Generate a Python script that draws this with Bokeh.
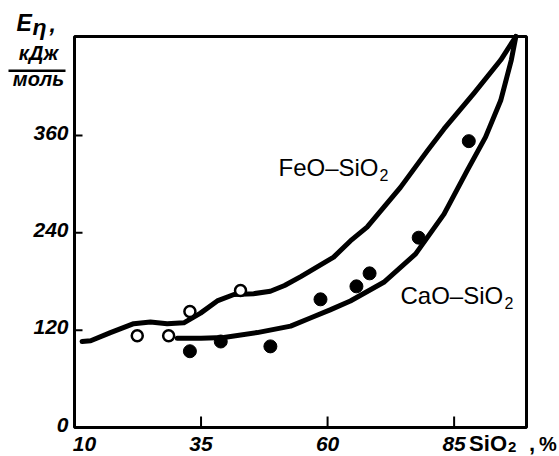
from bokeh.plotting import figure
from bokeh.models import Range1d
from bokeh.core.properties import value
from bokeh.embed import file_html
from bokeh.resources import INLINE

# ---- data ----
feo_curve_x = [11.5, 13.2, 17.1, 21.7, 25.0, 28.3, 31.6, 34.9, 38.2, 41.5, 45.4, 48.7,
               51.5, 54.7, 61.2, 64.5, 67.8, 74.4, 79.7, 83.0, 88.9, 94.2, 97.2]
feo_curve_y = [106, 107, 117, 128, 130, 128, 129, 141, 156, 164, 165, 168,
               175, 186, 210, 230, 247, 296, 341, 368, 412, 453, 482]

cao_curve_x = [30.3, 35.0, 39.5, 46.1, 52.7, 56.6, 60.5, 64.5, 71.1, 77.4, 83.0,
               87.6, 91.2, 94.2, 96.3, 97.2]
cao_curve_y = [110, 110, 111, 117, 125, 135, 145, 156, 179, 214, 263,
               317, 358, 403, 453, 482]

feo_pts_x = [22.4, 28.6, 32.8, 42.8]
feo_pts_y = [113, 113, 143, 169]

cao_pts_x = [32.8, 38.9, 48.7, 58.6, 65.7, 68.3, 78.0, 87.9]
cao_pts_y = [94, 106, 100, 158, 174, 190, 234, 353]

x_ticks = [35, 60, 85]
x_tick_labels = ["35", "60", "85"]
y_ticks = [0, 120, 240, 360]
y_tick_labels = ["0", "120", "240", "360"]
x_first_label = "10"
X0, X1 = 10, 99.3      # axis box limits
Y0, Y1 = 0, 482

# ---- layout (pixels) ----
W, H = 559, 456
FL, FR, FT, FB = 74, 526, 36, 427       # box edges on the canvas
sx = (FR - FL) / (X1 - X0)
sy = (FB - FT) / (Y1 - Y0)
FONT = value("Liberation Sans")
INK = "black"
BASE_FIX = 0.42   # the svg text lands this many em below the requested baseline

XR = (X0 - FL / sx, X1 + (W - FR) / sx)
YR = (Y0 - (H - FB) / sy, Y1 + FT / sy)

p = figure(frame_width=W, frame_height=H, output_backend="svg", toolbar_location=None,
           x_range=Range1d(*XR), y_range=Range1d(*YR),
           min_border=0, min_border_left=0, min_border_right=0,
           min_border_top=0, min_border_bottom=0)
p.title = None
p.axis.visible = False
p.grid.visible = False
p.outline_line_color = None
p.background_fill_color = "white"
p.border_fill_color = "white"

# axis box
p.quad(left=[X0], right=[X1], bottom=[Y0], top=[Y1], fill_color=None,
       line_color=INK, line_width=3)

# inward ticks
p.segment(x0=x_ticks, y0=[Y0] * len(x_ticks), x1=x_ticks,
          y1=[Y0 + 11 / sy] * len(x_ticks), line_color=INK, line_width=2)
yt = y_ticks[1:]
p.segment(x0=[X0] * len(yt), y0=yt, x1=[X0 + 8 / sx] * len(yt), y1=yt,
          line_color=INK, line_width=2)


def txt(x, y, s, dx=0, dy=0, size=22, style="normal", align="left"):
    xs = x if isinstance(x, list) else [x]
    ys = y if isinstance(y, list) else [y] * len(xs)
    ss = s if isinstance(s, list) else [s] * len(xs)
    p.text(x=xs, y=ys, text=ss, x_offset=dx, y_offset=dy - BASE_FIX * size,
           text_font=FONT, text_font_size=f"{size}px", text_font_style=style,
           text_color=INK, text_align=align, text_baseline="alphabetic")


# tick labels
txt(x_ticks, Y0, x_tick_labels, dy=25, size=21, style="bold italic", align="center")
txt(X0, Y0, x_first_label, dx=10, dy=25, size=21, style="bold italic", align="center")
txt([X0] * len(y_ticks), y_ticks, y_tick_labels, dx=-6, dy=6, size=21,
    style="bold italic", align="right")

# x-axis title next to the last tick label
txt(85, Y0, "SiO", dx=15, dy=25, size=22, style="bold")
txt(85, Y0, "2", dx=54, dy=26, size=15, style="bold")
txt(85, Y0, ",", dx=75, dy=25, size=22, style="bold")
txt(85, Y0, "%", dx=85, dy=25, size=20, style="bold")

# y-axis title at the upper-left corner
txt(X0, Y1, "E", dx=-58, dy=-4, size=23, style="bold italic")
txt(X0, Y1, "η", dx=-42, dy=0, size=23, style="bold italic")
txt(X0, Y1, ",", dx=-25, dy=-3, size=23, style="bold italic")
txt(X0, Y1, "кДж", dx=-36, dy=25, size=20, style="bold italic", align="center")
p.rect(x=[X0 - 37.5 / sx], y=[Y1 - 34.2 / sy], width=57, height=2.5,
       width_units="screen", height_units="screen", fill_color=INK, line_color=None)
txt(X0, Y1, "моль", dx=-36, dy=51, size=20, style="bold italic", align="center")

# curves
p.line(feo_curve_x, feo_curve_y, line_color=INK, line_width=5, line_join="round", line_cap="round")
p.line(cao_curve_x, cao_curve_y, line_color=INK, line_width=5, line_join="round", line_cap="round")

# points
p.scatter(feo_pts_x, feo_pts_y, marker="circle", size=11, fill_color="white",
          line_color=INK, line_width=2.5)
p.scatter(cao_pts_x, cao_pts_y, marker="circle", size=13, fill_color=INK,
          line_color=INK)

# curve labels
txt(50.3, 308, "FeO–SiO", size=24)
txt(50.3, 308, "2", dx=101, dy=4, size=16)
txt(74.4, 150, "CaO–SiO", size=24)
txt(74.4, 150, "2", dx=104, dy=4, size=16)

open("out.html", "w").write(file_html(p, INLINE))
